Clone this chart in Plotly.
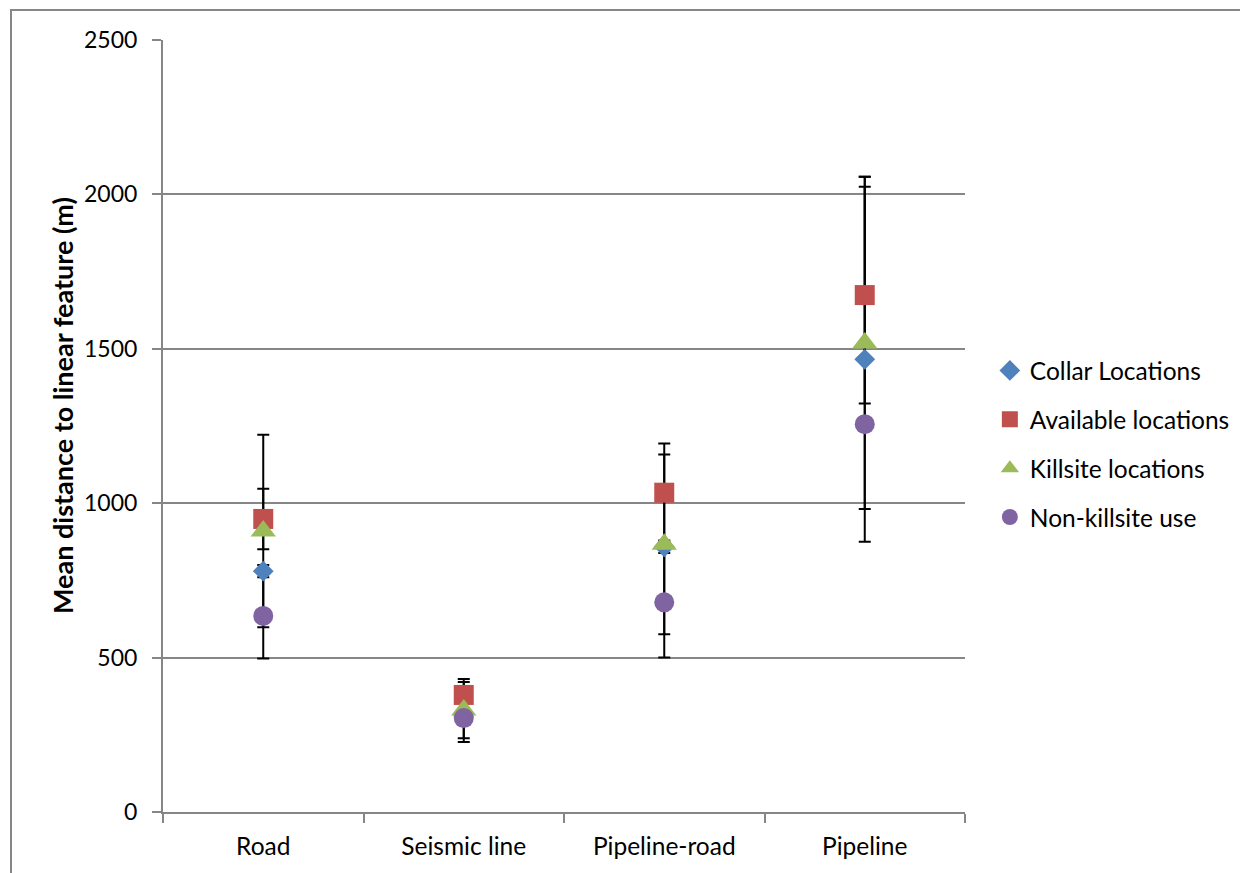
import plotly.graph_objects as go

categories = ["Road", "Seismic line", "Pipeline-road", "Pipeline"]

series_names = ["Collar Locations", "Available locations", "Killsite locations", "Non-killsite use"]
collar = [780, 310, 859, 1466]
collar_err = [20, 20, 20, 591]
available = [949, 379, 1034, 1674]
available_err = [98, 52, 159, 351]
killsite = [910, 330, 867, 1519]
killsite_err = [312, 91, 291, 538]
nonkill = [635, 304, 679, 1256]
nonkill_err = [138, 77, 179, 20]

y_ticks = [0, 500, 1000, 1500, 2000, 2500]

values = [collar, available, killsite, nonkill]
errors = [collar_err, available_err, killsite_err, nonkill_err]
colors = ["#4F81BD", "#C0504D", "#9BBB59", "#8064A2"]
symbols = ["diamond", "square", "triangle-up", "circle"]
sizes = [16, 20, 22, 20]

FONT = "Lato"
GRAY = "#868686"

# page is shown with an 8px body offset; plot area targeted at 163..965 x 40..812 on screen
L, T, W, H = 155, 32, 802, 772

fig = go.Figure()

# error bars first, so all markers sit on top of them
for v, e in zip(values, errors):
    fig.add_trace(go.Scatter(
        x=categories, y=v, mode="markers",
        marker=dict(color="rgba(0,0,0,0)", size=1),
        error_y=dict(type="data", array=e, visible=True, color="black",
                     thickness=2, width=6),
        showlegend=False, hoverinfo="skip"))

for i, (name, v) in enumerate(zip(series_names, values)):
    fig.add_trace(go.Scatter(
        x=categories, y=v, mode="markers", name=name,
        legendgroup=name,
        marker=dict(color=colors[i], symbol=symbols[i], size=sizes[i],
                    line=dict(width=0))))

fig.update_layout(
    width=1248, height=873,
    margin=dict(l=L, r=1248 - L - W, t=T, b=873 - T - H),
    paper_bgcolor="white", plot_bgcolor="white",
    font=dict(family=FONT, size=23, color="black"),
    legend=dict(x=1.031, y=(812 - 444) / 772, xanchor="left", yanchor="middle",
                font=dict(family=FONT, size=24.5), tracegroupgap=14),
    xaxis=dict(type="category", range=[-0.5, 3.5], showline=True,
               linecolor=GRAY, linewidth=2, ticks="outside",
               tickson="boundaries", ticklen=9, tickcolor=GRAY, tickwidth=2,
               showgrid=False, zeroline=False, ticklabelstandoff=12,
               tickfont=dict(family=FONT, size=24.5)),
    yaxis=dict(range=[0, 2500], tickvals=y_ticks, showline=True,
               linecolor=GRAY, linewidth=2, ticks="outside", ticklen=9,
               tickcolor=GRAY, tickwidth=2, showgrid=True, gridcolor=GRAY,
               gridwidth=2, zeroline=False,
               tickfont=dict(family=FONT, size=23), ticklabelstandoff=10),
)

# y-axis title as annotation (positioned off-centre like the reference)
fig.add_annotation(text="<b>Mean distance to linear feature (m)</b>",
                   xref="paper", yref="paper", textangle=-90,
                   x=(62 - 163) / W, y=(812 - 406) / H,
                   xanchor="center", yanchor="middle", showarrow=False,
                   font=dict(family=FONT, size=27, color="black"))

# outer chart-area border (left and top edges visible, rest cut off)
fig.add_shape(type="rect", xref="paper", yref="paper",
              x0=(11 - 163) / W, x1=(1270 - 163) / W,
              y0=(812 - 890) / H, y1=(812 - 10) / H,
              line=dict(color=GRAY, width=2), fillcolor="rgba(0,0,0,0)",
              layer="below")

fig.write_html("out.html")
